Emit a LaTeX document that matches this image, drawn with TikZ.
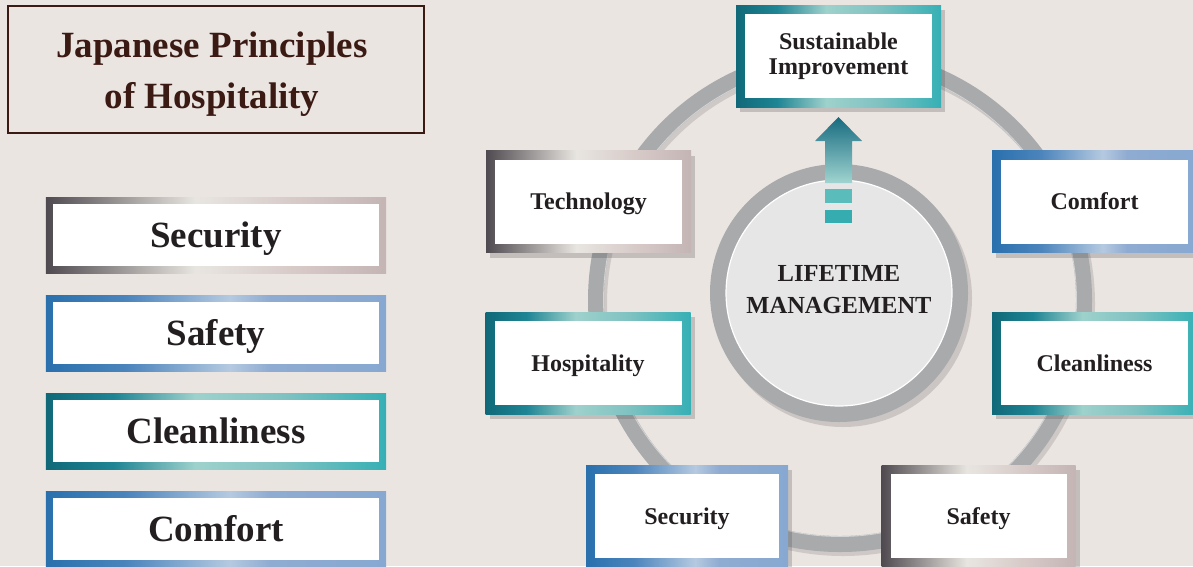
\documentclass[tikz,border=0pt]{standalone}
\usepackage{fontspec}
\setmainfont{Liberation Serif}
\usetikzlibrary{matrix,positioning,shadows}

\definecolor{bgmarble}{HTML}{EBE5E2}
\definecolor{titlebrown}{HTML}{3A1A12}
\definecolor{ringgray}{HTML}{A8AAAC}
\definecolor{hubgray}{HTML}{E6E6E6}
\definecolor{inktext}{HTML}{231F20}
\definecolor{tealdark}{HTML}{176B80}
\definecolor{teallight}{HTML}{A0D4D0}
\definecolor{tealbar}{HTML}{5BBCBC}
\definecolor{tealbarlow}{HTML}{35ACB0}

\pgfdeclarehorizontalshading{grayframe}{100bp}{rgb(0bp)=(0.31,0.29,0.31); rgb(25bp)=(0.31,0.29,0.31); rgb(47bp)=(0.91,0.90,0.88); rgb(62bp)=(0.84,0.79,0.78); rgb(75bp)=(0.77,0.71,0.71); rgb(100bp)=(0.77,0.71,0.71)}
\pgfdeclarehorizontalshading{blueframe}{100bp}{rgb(0bp)=(0.16,0.44,0.68); rgb(25bp)=(0.16,0.44,0.68); rgb(37bp)=(0.30,0.52,0.74); rgb(52bp)=(0.71,0.79,0.88); rgb(58bp)=(0.56,0.67,0.82); rgb(75bp)=(0.53,0.66,0.82); rgb(100bp)=(0.53,0.66,0.82)}
\pgfdeclarehorizontalshading{tealframe}{100bp}{rgb(0bp)=(0.06,0.41,0.47); rgb(25bp)=(0.06,0.41,0.47); rgb(35bp)=(0.12,0.52,0.58); rgb(47bp)=(0.62,0.82,0.80); rgb(60bp)=(0.50,0.76,0.76); rgb(75bp)=(0.21,0.69,0.71); rgb(100bp)=(0.21,0.69,0.71)}

\tikzset{
  whiteinset/.style={path picture={\fill[white]
      ([shift={(#1,#1)}]path picture bounding box.south west) rectangle
      ([shift={(-#1,-#1)}]path picture bounding box.north east);}},
  lbox/.style={shade, shading=#1, whiteinset=7pt, inner sep=0pt,
    minimum width=340pt, minimum height=76pt, text=inktext,
    text height=24.5pt, text depth=0pt,
    font=\fontsize{37}{40}\selectfont\bfseries},
  rboxbase/.style={shade, shading=#1, whiteinset=9pt, inner sep=0pt,
    minimum width=205pt, minimum height=102pt, text=inktext, align=center,
    font=\fontsize{24}{25}\selectfont\bfseries,
    drop shadow={shadow xshift=4pt, shadow yshift=-5pt, opacity=0.25, fill=black!70}},
  rbox/.style={rboxbase=#1, text height=16pt, text depth=0pt}
}

\begin{document}
\begin{tikzpicture}[x=1pt, y=-1pt]
  \useasboundingbox (0,0) rectangle (1193,566);
  \fill[bgmarble] (0,0) rectangle (1193,566);

  % title
  \node (titlebox) [draw=titlebrown, line width=1.3pt, minimum width=416pt, minimum height=127pt]
    at (216,69.5) {};
  \node (title) [text=titlebrown, align=center, font=\fontsize{37}{51}\selectfont\bfseries]
    at (212,74) {Japanese Principles\\of Hospitality};

  % left column
  \matrix (principles) [row sep=22pt] at (216,382) {
    \node (lsec) [lbox=grayframe] {Security}; \\
    \node (lsaf) [lbox=blueframe] {Safety}; \\
    \node (lclean) [lbox=tealframe] {Cleanliness}; \\
    \node (lcomf) [lbox=blueframe] {Comfort}; \\
  };

  % cycle ring
  \draw[black, opacity=0.12, line width=16pt] (843,304) circle[radius=244];
  \draw[ringgray, line width=16pt] (840,300) circle[radius=244];
  \draw[white, opacity=0.5, line width=0.8pt] (840,300) circle[radius=236.5];

  % hub
  \node (hub) [circle, fill=ringgray, minimum size=258pt,
    drop shadow={shadow xshift=4pt, shadow yshift=-5pt, opacity=0.2, fill=black!70}] at (839,293) {};
  \node (hubface) [circle, fill=hubgray, draw=white, line width=1.2pt, minimum size=226pt] at (hub.center) {};
  \node (hubtext) [align=center, text=inktext, font=\fontsize{24.5}{32}\selectfont\bfseries]
    at (839,290) {LIFETIME\\MANAGEMENT};

  % upward arrow
  \shade[top color=tealdark, bottom color=teallight]
    (838.5,117) -- (862,141) -- (852,141) -- (852,183) -- (825,183) -- (825,141) -- (815,141) -- cycle;
  \fill[tealbar] (825,189) rectangle (852,203);
  \fill[tealbarlow] (825,210) rectangle (852,223);

  % outer boxes
  \node (improve) [rboxbase=tealframe] at (838.5,56) {Sustainable\\Improvement};
  \node (tech) [rbox=grayframe] at (588.5,201.5) {Technology};
  \node (comfort) [rbox=blueframe] at (1094.5,201.5) {Comfort};
  \node (hosp) [rbox=tealframe] at (588,363) {Hospitality};
  \node (clean) [rbox=tealframe] at (1094.5,363) {Cleanliness};
  \node (secure) [rbox=blueframe, minimum width=202pt] at (687,516) {Security};
  \node (safe) [rbox=grayframe, minimum width=194pt] at (978.5,516) {Safety};
\end{tikzpicture}
\end{document}
